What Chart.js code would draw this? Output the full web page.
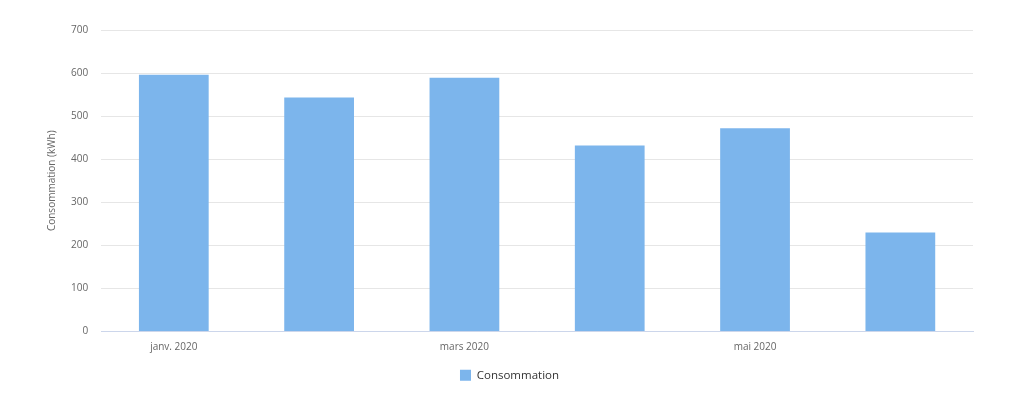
<!DOCTYPE html>
<html>
<head>
<meta charset="utf-8">
<script src="https://cdn.jsdelivr.net/npm/chart.js@4"></script>
<style>
  html, body { margin: 0; padding: 0; background: #fff; }
  #wrap { width: 1023px; height: 402px; }
</style>
</head>
<body>
<div id="wrap"><canvas id="chart"></canvas></div>
<script>
// Monthly consumption data
const months = ["janv. 2020", "févr. 2020", "mars 2020", "avr. 2020", "mai 2020", "juin 2020"];
const consommation = [596, 543, 589, 432, 472, 230];
const yTicks = [0, 100, 200, 300, 400, 500, 600, 700];

const ctx = document.getElementById("chart").getContext("2d");
const font = "'Open Sans', 'Noto Sans', sans-serif";

new Chart(ctx, {
    type: "bar",
    data: {
        labels: months,
        datasets: [
            {
                label: "Consommation",
                data: consommation,
                backgroundColor: "#7cb5ec",
                borderWidth: 0,
                barPercentage: 0.48,
                categoryPercentage: 1,
            },
        ],
    },
    options: {
        responsive: true,
        maintainAspectRatio: false,
        animation: false,
        layout: {
            padding: { top: 30, right: 50, bottom: 11, left: 46 },
        },
        plugins: {
            legend: {
                display: true,
                position: "bottom",
                labels: {
                    boxWidth: 11,
                    boxHeight: 11,
                    padding: 14,
                    color: "#333",
                    font: { family: font, size: 11.5 },
                },
            },
            tooltip: { enabled: false },
        },
        scales: {
            x: {
                grid: { display: false },
                border: { color: "#ccd6eb" },
                ticks: {
                    autoSkip: false,
                    maxRotation: 0,
                    color: "#666",
                    font: { family: font, size: 10 },
                    padding: 2,
                    callback: (v, i) => (i % 2 === 0 ? months[i] : ""),
                },
            },
            y: {
                min: yTicks[0],
                max: yTicks[yTicks.length - 1],
                afterBuildTicks: (axis) => {
                    axis.ticks = yTicks.map((v) => ({ value: v }));
                },
                grid: { color: "#e6e6e6", drawTicks: false },
                border: { display: false },
                ticks: {
                    color: "#666",
                    font: { family: font, size: 10 },
                    padding: 13,
                },
                title: {
                    display: true,
                    text: "Consommation (kWh)",
                    color: "#666",
                    font: { family: font, size: 10 },
                    padding: { top: 0, bottom: 0 },
                },
            },
        },
    },
});
</script>
</body>
</html>
